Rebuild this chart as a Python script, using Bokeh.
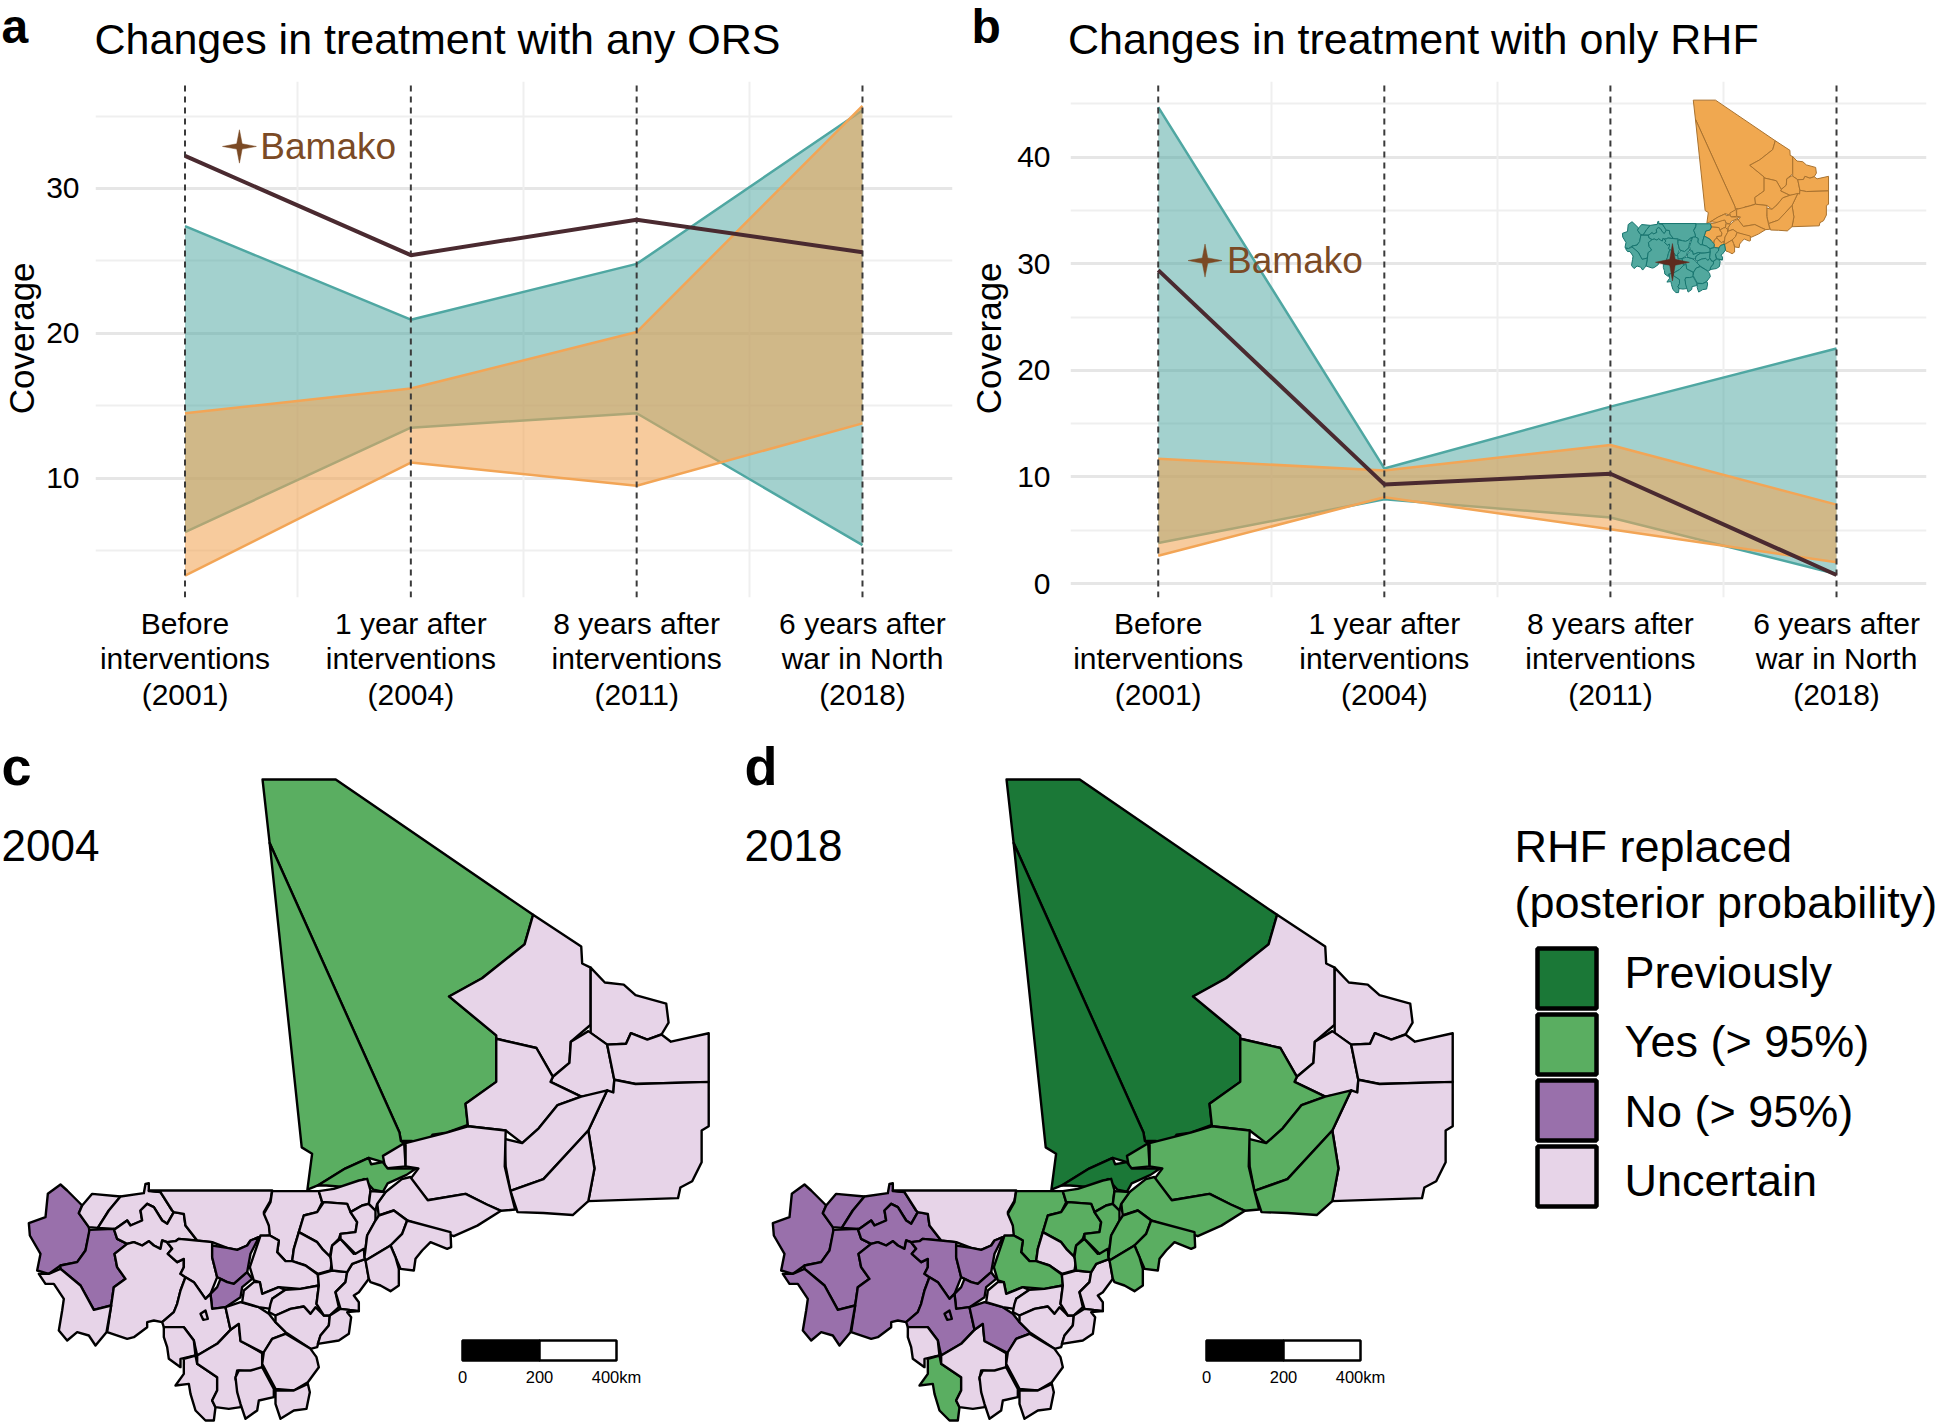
from bokeh.plotting import figure
from bokeh.layouts import column, row
from bokeh.models import Range1d, FixedTicker, Label, Grid
from bokeh.embed import file_html
from bokeh.resources import INLINE
import math

FONT = "Liberation Sans"
# ---------- line chart data ----------
STAGES = [1, 2, 3, 4]
STAGE_LABELS = {1: "Before\ninterventions\n(2001)", 2: "1 year after\ninterventions\n(2004)",
                3: "8 years after\ninterventions\n(2011)", 4: "6 years after\nwar in North\n(2018)"}
A_TEAL_HI = [27.4, 20.95, 24.8, 35.4]
A_TEAL_LO = [6.3, 13.5, 14.5, 5.4]
A_ORANGE_HI = [14.5, 16.2, 20.1, 35.7]
A_ORANGE_LO = [3.3, 11.1, 9.5, 13.8]
A_BAMAKO = [32.25, 25.4, 27.85, 25.6]
B_TEAL_HI = [44.7, 10.8, 16.6, 22.05]
B_TEAL_LO = [3.8, 7.9, 6.2, 0.9]
B_ORANGE_HI = [11.7, 10.6, 13.0, 7.4]
B_ORANGE_LO = [2.6, 8.1, 5.1, 2.0]
B_BAMAKO = [29.4, 9.3, 10.3, 0.8]

# ---------- map data ----------
Z1 = lambda pts: [(x / 2.118, 760 + y / 2.365) for x, y in pts]
Z5 = lambda pts: [(20 + x / 3, 1170 + y / 3) for x, y in pts]
Z6 = lambda pts: [(230 + x / 3, 1170 + y / 3) for x, y in pts]
REGIONS = {
 "N1": Z1([(555,45),(710,45),(1128,365),(1110,435),(1020,515),(950,558),(1050,650),(1050,760),(985,812),(990,862),(945,880),(915,885),(905,905),(870,900),(848,900),(845,880),(570,195)]),
 "N2": Z1([(570,195),(845,880),(848,900),(855,905),(810,950),(780,940),(730,965),(672,1005),(650,1015),(660,930),(638,915)]),
 "N3": Z1([(855,905),(858,960),(815,965),(810,935)]),
 "STRIP": Z1([(672,1005),(730,965),(780,940),(785,955),(810,950),(820,965),(880,965),(860,980),(820,1000),(810,1020),(790,1015),(770,990),(740,1010),(690,1005)]),
 "E1": Z1([(1128,365),(1230,440),(1232,480),(1250,490),(1250,625),(1208,665),(1205,715),(1170,748),(1135,680),(1050,658),(1050,650),(950,558),(1020,515),(1110,435)]),
 "E2": Z1([(1250,490),(1280,525),(1320,530),(1345,555),(1410,575),(1415,620),(1400,648),(1370,660),(1335,645),(1325,670),(1285,672),(1250,645),(1250,625)]),
 "E3": Z1([(1245,640),(1285,672),(1300,755),(1298,785),(1285,785),(1230,795),(1165,760),(1170,748),(1205,715),(1208,665)]),
 "E4": Z1([(1285,672),(1325,670),(1335,645),(1370,660),(1400,648),(1420,665),(1500,645),(1500,760),(1345,765),(1300,755)]),
 "E5": Z1([(1300,755),(1345,765),(1500,760),(1500,865),(1485,875),(1485,950),(1465,995),(1440,1010),(1435,1035),(1245,1042),(1258,965),(1245,875),(1285,780),(1298,785)]),
 "E6": Z1([(1050,658),(1135,680),(1170,748),(1165,760),(1230,795),(1180,815),(1140,870),(1105,905),(1070,875),(990,865),(985,812),(1050,760)]),
 "E7": Z1([(1230,795),(1285,780),(1245,875),(1150,990),(1080,1018),(1070,960),(1068,895),(1105,905),(1140,870),(1180,815)]),
 "E8": Z1([(1245,875),(1258,965),(1245,1042),(1212,1075),(1150,1070),(1095,1068),(1080,1018),(1150,990)]),
 "E9": Z1([(858,905),(945,880),(990,865),(1070,875),(1068,960),(1080,1018),(1090,1062),(1060,1065),(1030,1050),(985,1025),(905,1040),(868,990),(885,965),(858,960)]),
 "P39": Z1([(868,985),(905,1040),(985,1025),(1030,1050),(1060,1065),(1010,1100),(960,1125),(862,1088),(833,1064),(801,1076),(798,1048),(815,1021),(850,990)]),
 "P1": Z5([(120,42),(140,60),(185,105),(175,128),(205,170),(207,185),(195,240),(170,275),(120,285),(85,310),(50,300),(60,250),(28,195),(25,158),(75,140),(82,70)]),
 "P2": Z5([(207,178),(280,175),(290,205),(320,220),(282,250),(290,290),(315,325),(280,350),(272,405),(220,418),(180,345),(120,295),(120,285),(170,275),(195,240)]),
 "P3": Z5([(215,70),(300,78),(265,120),(232,172),(205,170),(175,128),(185,105)]),
 "P4": Z5([(300,78),(370,68),(375,40),(385,38),(385,62),(420,65),(455,120),(460,125),(440,160),(425,150),(400,110),(380,100),(360,120),(365,150),(330,165),(320,150),(285,175),(232,172),(265,120)]),
 "P5": Z5([(285,175),(320,150),(330,165),(365,150),(360,120),(380,100),(400,110),(425,150),(440,160),(460,125),(490,130),(495,165),(530,210),(475,205),(465,212),(440,215),(425,210),(420,235),(400,225),(385,212),(365,225),(340,215),(320,220),(290,205),(280,175)]),
 "P6": Z5([(385,60),(755,60),(750,90),(730,125),(745,160),(750,195),(715,200),(690,210),(680,225),(650,238),(620,232),(575,215),(530,210),(495,165),(490,130),(460,125),(455,120),(420,65)]),
 "P7": Z5([(320,220),(340,215),(365,225),(385,212),(400,225),(420,235),(425,210),(440,215),(455,235),(442,250),(470,275),(490,265),(490,290),(480,310),(495,320),(480,360),(470,400),(460,425),(425,455),(400,450),(380,455),(380,470),(340,500),(320,505),(260,485),(272,405),(280,350),(315,325),(290,290),(282,250)]),
 "P8": Z5([(85,310),(120,295),(180,345),(220,418),(272,405),(258,485),(225,525),(205,495),(170,485),(140,510),(115,480),(125,420),(130,385),(100,340),(75,340),(55,310)]),
 "P9": Z5([(440,215),(465,212),(475,205),(575,215),(575,260),(590,320),(570,370),(555,385),(520,335),(495,320),(480,310),(490,290),(490,265),(470,275),(442,250),(455,235)]),
 "P10": Z5([(575,225),(620,232),(650,238),(680,225),(690,210),(715,200),(690,250),(680,305),(640,340),(620,335),(600,325),(590,320),(575,260)]),
 "P11": Z5([(600,325),(620,335),(640,340),(680,305),(695,325),(665,350),(660,380),(615,410),(575,415),(570,370),(590,350)]),
 "P12": Z5([(495,320),(520,335),(555,385),(570,370),(575,415),(615,410),(630,478),(590,520),(530,555),(520,510),(490,470),(470,470),(430,470),(425,455),(460,425),(470,400),(480,360)]),
 "P13": Z5([(430,470),(470,470),(490,470),(520,510),(525,555),(480,565),(480,590),(445,565),(440,530),(430,500)]),
 "P14": Z5([(490,565),(525,555),(530,580),(590,620),(590,660),(575,690),(585,710),(580,750),(555,750),(525,720),(510,670),(505,640),(465,645),(490,610)]),
 "P15": Z5([(530,555),(590,520),(630,478),(655,460),(660,510),(725,548),(725,590),(700,605),(650,600),(645,625),(665,690),(660,710),(625,715),(585,710),(575,690),(590,660),(590,620),(530,580)]),
 "P17": Z6([(-15,410),(30,395),(85,410),(115,430),(135,455),(170,488),(125,505),(100,548),(30,512),(25,460),(0,478)]),
 "P18": Z6([(125,62),(265,62),(275,95),(260,125),(220,135),(205,185),(190,235),(185,272),(165,272),(140,245),(145,210),(118,195),(115,165),(100,130),(120,95)]),
 "P19": Z6([(265,62),(310,55),(385,30),(410,25),(420,60),(415,100),(395,105),(360,125),(350,100),(280,95),(275,95)]),
 "P20": Z6([(280,95),(350,100),(360,125),(380,155),(375,185),(330,190),(325,205),(305,225),(298,258),(275,235),(260,215),(205,185),(220,135),(260,125)]),
 "P21": Z6([(205,185),(260,215),(275,235),(298,258),(305,270),(300,300),(262,310),(225,285),(185,272),(190,235)]),
 "P22": Z6([(90,195),(118,195),(145,210),(140,245),(165,272),(185,272),(225,285),(262,312),(265,345),(210,355),(145,350),(95,370),(88,335),(70,330),(58,290)]),
 "P23": Z6([(70,335),(88,335),(95,370),(145,350),(165,358),(125,385),(120,415),(85,410),(35,395),(40,360)]),
 "P24": Z6([(165,358),(210,355),(265,345),(258,400),(280,435),(240,430),(220,408),(180,415),(135,435),(115,425),(120,400),(125,385)]),
 "P25": Z6([(135,435),(180,415),(220,408),(240,430),(255,410),(280,435),(298,435),(295,465),(270,495),(260,530),(240,535),(165,485),(135,455)]),
 "P26": Z6([(262,312),(305,300),(350,305),(345,335),(315,365),(325,410),(298,435),(280,435),(258,400),(265,345)]),
 "P27": Z6([(350,305),(365,280),(405,265),(415,325),(385,365),(370,375),(385,395),(385,422),(330,415),(315,365),(345,335)]),
 "P28": Z6([(305,225),(330,205),(370,250),(400,232),(405,265),(365,280),(350,305),(305,300),(300,258)]),
 "P29": Z6([(330,190),(375,185),(380,155),(360,125),(395,105),(415,100),(435,120),(435,150),(410,195),(402,260),(400,235),(375,250),(340,215),(330,205)]),
 "P30": Z6([(445,135),(490,120),(530,150),(515,190),(480,225),(405,270),(402,260),(410,195),(435,150)]),
 "P31": Z6([(480,225),(515,190),(530,150),(660,185),(662,230),(650,235),(600,215),(575,240),(555,265),(550,300),(510,295),(495,260)]),
 "P32": Z6([(405,270),(480,225),(495,260),(505,295),(505,345),(480,362),(450,345),(420,335),(415,325)]),
 "P33": Z6([(330,415),(385,422),(350,425),(362,440),(355,490),(325,510),(262,520),(270,495),(295,465),(298,435)]),
 "P34": Z6([(125,505),(165,490),(240,535),(258,560),(265,590),(232,635),(190,660),(135,655),(95,580),(100,545)]),
 "P35": Z6([(25,600),(60,600),(95,590),(130,655),(130,680),(85,690),(80,720),(45,745),(30,700),(20,665),(15,620)]),
 "P36": Z6([(135,660),(190,660),(232,640),(238,665),(228,715),(190,720),(150,745),(135,700)]),
 "P40": Z6([(420,62),(465,65),(440,100),(435,120),(415,100)]),
 "BKO": Z5([(540,430),(555,420),(562,445),(548,448)]),
}
PREV, YES, NO, UNC = "Previously", "Yes (> 95%)", "No (> 95%)", "Uncertain"
CLASSES = [PREV, YES, NO, UNC]
CLASS_COLORS = {PREV: "#1b7837", YES: "#5aae61", NO: "#9970ab", UNC: "#e7d4e8"}
STATUS_2004 = {"N1": YES, "N2": YES, "STRIP": YES, "P1": NO, "P2": NO, "P10": NO, "P11": NO}
STATUS_2018 = {"N1": PREV, "N2": PREV, "STRIP": PREV, "N3": YES, "E6": YES, "E7": YES, "E8": YES, "E9": YES,
               "P39": YES, "P1": NO, "P2": NO, "P3": NO, "P4": NO, "P5": NO, "P7": NO, "P8": NO, "P9": NO,
               "P10": NO, "P11": NO, "P12": NO, "P14": YES, "P17": NO, "P18": YES, "P19": YES, "P20": YES,
               "P22": YES, "P28": YES, "P29": YES, "P30": YES, "P31": YES, "P32": YES, "P40": YES, "BKO": NO}
NORTH_REGIONS = {"N1", "N2", "N3", "STRIP", "E1", "E2", "E3", "E4", "E5", "E6", "E7", "E8", "E9", "P39",
                 "P19", "P20", "P28", "P29", "P30", "P31", "P32", "P40"}
SCALE_KM = [0, 200, 400]
SCALE_LABELS = ["0", "200", "400km"]

TEAL, ORANGE, DARK, BROWN = "#4fa7a2", "#f2a556", "#4a2a30", "#7b4a25"
BL = 0.36  # baseline correction of Label text, in em


def dlabel(p, x, y, text, size, **kw):
    """Label positioned in a page-pixel data space."""
    kw.setdefault("text_color", "black")
    p.add_layout(Label(x=x, y=y - BL * size, text=text, text_font=FONT, text_font_size=f"{size}px",
                       text_baseline="alphabetic", **kw))


def star(p, cx, cy, rx, ry, color):
    k = 0.16
    xs = [cx, cx + rx * k, cx + rx, cx + rx * k, cx, cx - rx * k, cx - rx, cx - rx * k]
    ys = [cy + ry, cy + ry * k, cy, cy - ry * k, cy - ry, cy - ry * k, cy, cy + ry * k]
    p.patch(xs, ys, fill_color=color, line_color=color, line_width=0.5)


def blank(w, h, xr, yr):
    p = figure(width=w, height=h, x_range=Range1d(*xr), y_range=Range1d(*yr), output_backend="svg",
               toolbar_location=None, min_border=0, outline_line_color=None, x_axis_type=None, y_axis_type=None)
    p.grid.visible = False
    return p


def strip_panel(w, xr, x_center):
    p = blank(w, 649, xr, (730, 81))
    p.add_layout(Label(x=x_center, y=404, text="Coverage", text_font=FONT, text_font_size="35px", angle=math.pi / 2,
                       text_align="center", text_baseline="middle", text_color="black"))
    return p


def line_panel(xr, yr, w, border_l, border_r, tick_gap, major, minor, teal_hi, teal_lo, or_hi, or_lo, bko, star_xy):
    p = figure(width=w, height=649, x_range=Range1d(*xr), y_range=Range1d(*yr), output_backend="svg",
               toolbar_location=None, min_border_left=border_l, min_border_right=border_r, min_border_top=0,
               min_border_bottom=133, outline_line_color=None)
    p.xaxis.ticker = FixedTicker(ticks=STAGES)
    p.xaxis.major_label_overrides = STAGE_LABELS
    p.yaxis.ticker = FixedTicker(ticks=major)
    for ax in (p.xaxis, p.yaxis):
        ax.axis_line_color = None
        ax.major_tick_line_color = None
        ax.minor_tick_line_color = None
        ax.major_label_text_font = FONT
        ax.major_label_text_font_size = "30px"
        ax.major_label_text_color = "black"
    p.xaxis.major_label_standoff = 3
    p.xaxis.major_label_text_line_height = 1.08
    p.yaxis.major_label_standoff = tick_gap
    p.xgrid.grid_line_color = None
    p.ygrid.ticker = FixedTicker(ticks=major)
    p.ygrid.grid_line_color = "#e6e6e6"
    p.ygrid.grid_line_width = 3
    p.add_layout(Grid(dimension=1, ticker=FixedTicker(ticks=minor), grid_line_color="#efefef", grid_line_width=2))
    p.add_layout(Grid(dimension=0, ticker=FixedTicker(ticks=[1.5, 2.5, 3.5]), grid_line_color="#efefef", grid_line_width=2))

    for hi, lo, col, fa in ((teal_hi, teal_lo, TEAL, 0.52), (or_hi, or_lo, ORANGE, 0.58)):
        p.varea(STAGES, lo, hi, fill_color=col, fill_alpha=fa)
        p.line(STAGES, hi, line_color=col, line_width=2.5)
        p.line(STAGES, lo, line_color=col, line_width=2.5)
    p.segment(STAGES, [yr[0]] * 4, STAGES, [yr[1]] * 4, line_color="#3a3a3a", line_width=2, line_dash="6 5")
    p.line(STAGES, bko, line_color=DARK, line_width=4)
    star(p, star_xy[0], star_xy[1], star_xy[2], star_xy[3], BROWN)
    return p


header = blank(1941, 81, (0, 1941), (81, 0))
dlabel(header, 1, 43, "a", 48, text_font_style="bold")
dlabel(header, 94, 54, "Changes in treatment with any ORS", 43)
dlabel(header, 971, 43, "b", 48, text_font_style="bold")
dlabel(header, 1067.5, 54, "Changes in treatment with only RHF", 43)

strip_a = strip_panel(42, (0, 42), 20.5)
pa = line_panel((0.6036, 4.3986), (1.79, 37.38), 928, 53, 18, 10, [10, 20, 30], [5, 15, 25, 35],
                A_TEAL_HI, A_TEAL_LO, A_ORANGE_HI, A_ORANGE_LO, A_BAMAKO, (1.241, 32.9, 0.075, 1.15))
pa.add_layout(Label(x=1.3336, y=32.9, text="Bamako", text_font=FONT, text_font_size="37px",
                    text_baseline="middle", text_color=BROWN))

strip_b = strip_panel(40, (970, 1010), 988)
pb = line_panel((0.612, 4.398), (-1.31, 47.1), 931, 60, 15, 14, [0, 10, 20, 30, 40], [5, 15, 25, 35, 45],
                B_TEAL_HI, B_TEAL_LO, B_ORANGE_HI, B_ORANGE_LO, B_BAMAKO, (1.207, 30.3, 0.075, 1.55))
pb.add_layout(Label(x=1.3045, y=30.3, text="Bamako", text_font=FONT, text_font_size="37px",
                    text_baseline="middle", text_color=BROWN))

# inset locator map in panel b (drawn on panel b's data scale)
def inset_xy(pts):
    xs = [1 + (1621.7 + (x - 28.3) * 0.303 - 1157.7) / 226 for x, y in pts]
    ys = [(583 - (100 + (y - 779) * 0.30)) / 10.65 for x, y in pts]
    return xs, ys

for group, fill, edge in ((True, "#f0a850", "#a9722f"), (False, "#52a89e", "#17756f")):
    names = [n for n in REGIONS if (n in NORTH_REGIONS) == group]
    geo = [inset_xy(REGIONS[n]) for n in names]
    pb.patches([g[0] for g in geo], [g[1] for g in geo], fill_color=fill, line_color=edge, line_width=1)
star(pb, 1 + (1671.7 - 1157.7) / 226, (583 - 262) / 10.65, 0.075, 1.75, "#5e2a1e")


def map_panel(status, w, xr, dx, tag, tag_x, year, year_x):
    p = blank(w, 692, xr, (1422, 730))
    names = list(REGIONS)
    xs = [[pt[0] + dx for pt in REGIONS[n]] for n in names]
    ys = [[pt[1] for pt in REGIONS[n]] for n in names]
    cols = [CLASS_COLORS[status.get(n, UNC)] for n in names]
    p.patches(xs, ys, fill_color=cols, line_color="black", line_width=2.4, line_join="round")
    # scale bar
    sx = [462 + dx + km * 0.385 for km in SCALE_KM]
    p.quad(left=sx[:-1], right=sx[1:], top=1340, bottom=1360, fill_color=["black", "white"],
           line_color="black", line_width=2.5)
    for x_, t in zip(sx, SCALE_LABELS):
        dlabel(p, x_, 1382.5, t, 16.5, text_align="center")
    dlabel(p, tag_x, 785, tag, 54, text_font_style="bold")
    dlabel(p, year_x, 861, year, 44)
    return p


pc = map_panel(STATUS_2004, 740, (0, 740), 0, "c", 1, "2004", 1)
pd = map_panel(STATUS_2018, 1201, (740, 1941), 744, "d", 744, "2018", 744)

# legend
for txt, yb in (("RHF replaced", 862), ("(posterior probability)", 918)):
    dlabel(pd, 1514, yb, txt, 45)
tops = [948, 1014, 1080, 1146]
pd.quad(left=[1537] * 4, right=[1596] * 4, top=tops, bottom=[t + 60 for t in tops],
        fill_color=[CLASS_COLORS[c] for c in CLASSES], line_color="black", line_width=4.5)
for c, yb in zip(CLASSES, [988, 1057, 1127, 1196]):
    dlabel(pd, 1624, yb, c, 45)

charts = row(strip_a, pa, strip_b, pb, spacing=0)
maps = row(pc, pd, spacing=0)
root = column(header, charts, maps, spacing=0)
open("out.html", "w").write(file_html(root, INLINE))
